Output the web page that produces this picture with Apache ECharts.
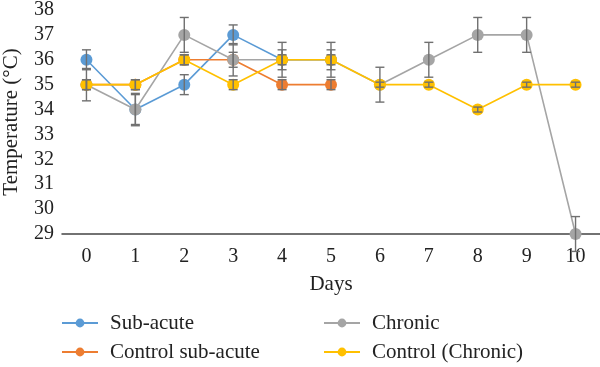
<!DOCTYPE html>
<html><head><meta charset="utf-8">
<script src="https://cdn.jsdelivr.net/npm/echarts@6/dist/echarts.min.js"></script>
<style>html,body{margin:0;padding:0;background:#fff}#c{width:600px;height:367px}</style>
</head><body><div id="c"></div>
<script>
const days = ['0','1','2','3','4','5','6','7','8','9','10'];
const subAcute = [36, 34, 35, 37, 36, 36, null, null, null, null, null];
const subAcuteErr = [0.4, 0.6, 0.4, 0.4, 0.4, 0.4, null, null, null, null, null];
const controlSub = [35, 35, 36, 36, 35, 35, null, null, null, null, null];
const controlSubErr = [0.2, 0.2, 0.2, 0.3, 0.2, 0.2, null, null, null, null, null];
const chronic = [35, 34, 37, 36, 36, 36, 35, 36, 37, 37, 29];
const chronicErr = [0.65, 0.65, 0.7, 0.65, 0.7, 0.7, 0.7, 0.7, 0.7, 0.7, 0.7];
const controlChr = [35, 35, 36, 35, 36, 36, 35, 35, 34, 35, 35];
const controlChrErr = [0.2, 0.2, 0.2, 0.2, 0.2, 0.2, 0.1, 0.1, 0.1, 0.1, 0.1];
const yTicks = [29, 30, 31, 32, 33, 34, 35, 36, 37, 38];

const FONT = 'Liberation Serif';
const colors = ['#5b9bd5', '#ed7d31', '#a5a5a5', '#ffc000'];

function errSeries(vals, errs, z) {
  const data = [];
  vals.forEach((v, i) => { if (v != null && errs[i] != null) data.push([i, v - errs[i], v + errs[i]]); });
  return {
    type: 'custom', silent: true, z: z,
    renderItem: function (params, api) {
      const lo = api.coord([api.value(0), api.value(1)]);
      const hi = api.coord([api.value(0), api.value(2)]);
      const w = 4.5;
      const st = { stroke: '#707070', lineWidth: 1.4 };
      return { type: 'group', children: [
        { type: 'line', shape: { x1: lo[0], y1: lo[1], x2: hi[0], y2: hi[1] }, style: st },
        { type: 'line', shape: { x1: lo[0] - w, y1: lo[1], x2: lo[0] + w, y2: lo[1] }, style: st },
        { type: 'line', shape: { x1: hi[0] - w, y1: hi[1], x2: hi[0] + w, y2: hi[1] }, style: st }
      ]};
    },
    encode: { x: 0, y: [1, 2] },
    data: data
  };
}
function lineSeries(name, vals, color, z) {
  return {
    name: name, type: 'line', data: vals, color: color, z: z,
    symbol: 'circle', symbolSize: 12,
    lineStyle: { width: 1.6, color: color },
    itemStyle: { color: color },
    connectNulls: false
  };
}

const legendCommon = {
  orient: 'vertical', top: 311, padding: 0,
  itemWidth: 36, itemHeight: 11, itemGap: 5,
  textStyle: { fontFamily: FONT, fontSize: 21, color: '#222', lineHeight: 24, padding: [0, 0, 0, 7] }
};

const chart = echarts.init(document.getElementById('c'));
chart.setOption({
  animation: false,
  color: colors,
  grid: { left: 62, right: 0, top: 10, bottom: 133, containLabel: false, outerBoundsMode: 'none' },
  xAxis: {
    type: 'category', data: days, boundaryGap: true,
    name: 'Days', nameLocation: 'middle', nameGap: 40,
    nameTextStyle: { fontFamily: FONT, fontSize: 21, color: '#222' },
    axisLine: { lineStyle: { color: '#444', width: 1.5 } },
    axisTick: { show: false },
    axisLabel: { fontFamily: FONT, fontSize: 20, color: '#222', margin: 13 }
  },
  yAxis: {
    type: 'value', min: yTicks[0], max: yTicks[yTicks.length - 1], interval: 1,
    name: 'Temperature (°C)', nameLocation: 'middle', nameGap: 40,
    nameTextStyle: { fontFamily: FONT, fontSize: 21, color: '#222' },
    axisLine: { show: false }, axisTick: { show: false },
    splitLine: { show: false },
    axisLabel: { fontFamily: FONT, fontSize: 20, color: '#222', margin: 8 }
  },
  legend: [
    Object.assign({ data: ['Sub-acute', 'Control sub-acute'], left: 61 }, legendCommon),
    Object.assign({ data: ['Chronic', 'Control (Chronic)'], left: 323 }, legendCommon)
  ],
  series: [
    lineSeries('Sub-acute', subAcute, colors[0], 2),
    lineSeries('Control sub-acute', controlSub, colors[1], 3),
    lineSeries('Chronic', chronic, colors[2], 4),
    lineSeries('Control (Chronic)', controlChr, colors[3], 5),
    errSeries(subAcute, subAcuteErr, 6),
    errSeries(controlSub, controlSubErr, 6),
    errSeries(chronic, chronicErr, 6),
    errSeries(controlChr, controlChrErr, 6)
  ]
});
</script></body></html>
